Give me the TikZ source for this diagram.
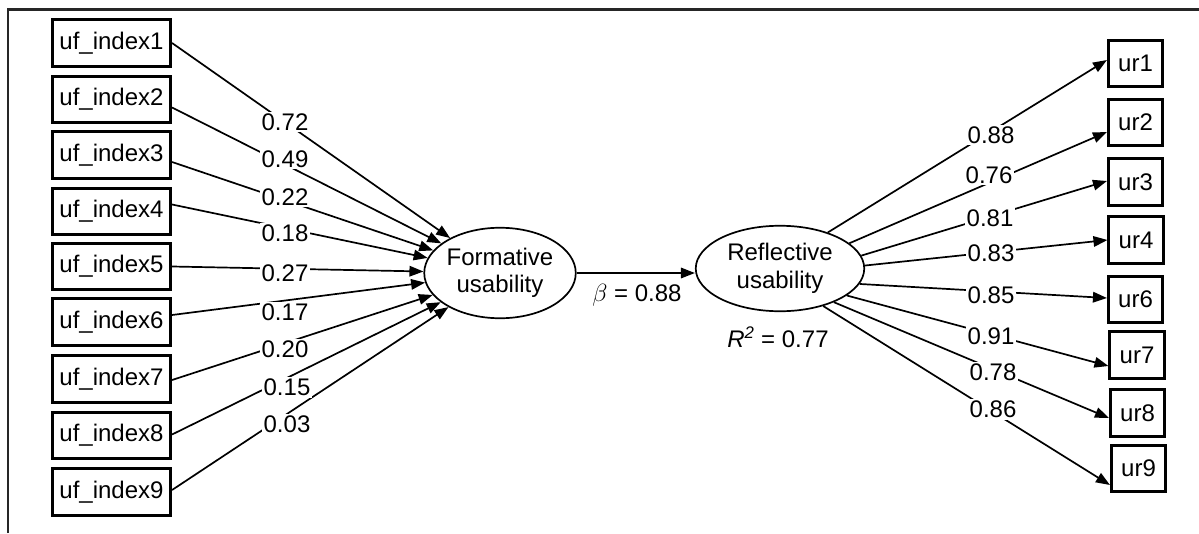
\documentclass[tikz,border=0pt]{standalone}
\usepackage{fontspec}
\setmainfont{Liberation Sans}
\usetikzlibrary{arrows.meta,shapes.geometric,calc}
\begin{document}
\begin{tikzpicture}[x=1pt,y=-1pt,
  txt/.style={font=\fontsize{24}{27.5}\selectfont},
  ind/.style={txt,draw,line width=2.6pt,minimum width=118.5pt,minimum height=46.5pt,inner sep=0pt},
  rind/.style={txt,draw,line width=2.6pt,minimum width=54.5pt,minimum height=46.5pt,inner sep=0pt},
  lat/.style={txt,draw,ellipse,line width=1.7pt,inner sep=0pt,align=center},
  arr/.style={line width=1.7pt,-{Triangle[length=14pt,width=10.5pt]}},
  lbl/.style={txt,fill=white,inner sep=2pt}]
\useasboundingbox (0,0) rectangle (1199,533);
\draw[line width=2.2pt,black!85] (8,533) -- (8,9.5) -- (1199,9.5);

% left indicators
\node[ind] (b1) at (111.5,43) {uf\_index1};
\node[ind] (b2) at (111.5,99.5) {uf\_index2};
\node[ind] (b3) at (111.5,155) {uf\_index3};
\node[ind] (b4) at (111.5,211.5) {uf\_index4};
\node[ind] (b5) at (111.5,266.5) {uf\_index5};
\node[ind] (b6) at (111.5,322) {uf\_index6};
\node[ind] (b7) at (111.5,379) {uf\_index7};
\node[ind] (b8) at (111.5,435.5) {uf\_index8};
\node[ind] (b9) at (111.5,492) {uf\_index9};

% latent variables
\node[lat,minimum width=151.5pt,minimum height=90.5pt] (F) at (500,273) {Formative\\usability};
\node[lat,minimum width=168.5pt,minimum height=85.5pt] (R) at (780,268.5) {Reflective\\usability};

% right indicators
\node[rind] (r1) at (1135.5,63.5) {ur1};
\node[rind] (r2) at (1135.5,122.5) {ur2};
\node[rind] (r3) at (1135.5,182) {ur3};
\node[rind] (r4) at (1136,240) {ur4};
\node[rind] (r6) at (1135.5,299.5) {ur6};
\node[rind] (r7) at (1137,355) {ur7};
\node[rind] (r8) at (1137.5,413) {ur8};
\node[rind] (r9) at (1138.5,468.5) {ur9};

% formative paths
\draw[arr] (b1.east) -- (F);
\draw[arr] ($(b2.east)+(0,8)$) -- (F);
\draw[arr] ($(b3.east)+(0,7)$) -- (F);
\draw[arr] ($(b4.east)+(0,-7)$) -- (F);
\draw[arr] (b5.east) -- (F);
\draw[arr] ($(b6.east)+(0,-7)$) -- (F);
\draw[arr] ($(b7.east)+(0,1)$) -- (F);
\draw[arr] ($(b8.east)+(0,-1)$) -- (F);
\draw[arr] ($(b9.east)+(0,-2)$) -- (F);

% structural path
\draw[arr] (F.east) -- (F.east -| R.west);

% reflective paths
\draw[arr] (R.37) -- ($(r1.west)+(0,-3.5)$);
\draw[arr] (R.20.6) -- ($(r2.west)+(0,9.5)$);
\draw[arr] (R.9.6) -- ($(r3.west)+(0,-1)$);
\draw[arr] (R.2.4) -- ($(r4.west)+(0,0)$);
\draw[arr] (R.-11.2) -- ($(r6.west)+(0,-1.5)$);
\draw[arr] (R.-22) -- ($(r7.west)+(0,11)$);
\draw[arr] (R.-32.7) -- ($(r8.west)+(0,5)$);
\draw[arr] (R.-41) -- ($(r9.west)+(0,16.5)$);

% loadings / weights
\node[lbl] (w1) at (285,122) {0.72};
\node[lbl] (w2) at (285,159) {0.49};
\node[lbl] (w3) at (285,197) {0.22};
\node[lbl] (w4) at (285,233) {0.18};
\node[lbl] (w5) at (285,273) {0.27};
\node[lbl] (w6) at (285,312) {0.17};
\node[lbl] (w7) at (285,349) {0.20};
\node[lbl] (w8) at (287,387) {0.15};
\node[lbl] (w9) at (287,424) {0.03};

\node[lbl] (l1) at (991,135) {0.88};
\node[lbl] (l2) at (989,175) {0.76};
\node[lbl] (l3) at (990,218) {0.81};
\node[lbl] (l4) at (991,253) {0.83};
\node[lbl] (l6) at (991,295) {0.85};
\node[lbl] (l7) at (991,336) {0.91};
\node[lbl] (l8) at (993,372) {0.78};
\node[lbl] (l9) at (993,409) {0.86};

\node[txt,inner sep=0pt] (beta) at (637,295) {$\beta$ = 0.88};
\node[txt,inner sep=0pt] (rsq) at (778,337) {\textit{R}\textsuperscript{\textit{2}} = 0.77};
\end{tikzpicture}
\end{document}
